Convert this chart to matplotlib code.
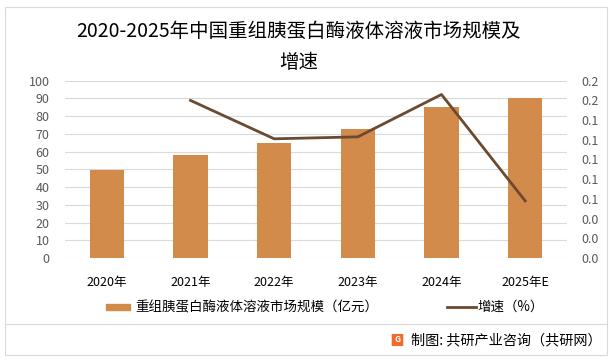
import matplotlib.pyplot as plt
from matplotlib.patches import Rectangle, FancyBboxPatch
from matplotlib.lines import Line2D
from matplotlib.ticker import FormatStrFormatter

plt.rcParams['font.family'] = ['Noto Sans CJK SC', 'DejaVu Sans']

# Data
years = ['2020年', '2021年', '2022年', '2023年', '2024年', '2025年E']
market_size = [49.6, 58.1, 65.0, 72.8, 85.3, 90.4]
growth_years = years[1:]
growth = [0.160, 0.121, 0.123, 0.166, 0.058]

bar_color = '#D38B4C'
line_color = '#6B4A2F'
text_color = '#595959'

fig = plt.figure(figsize=(6.16, 3.6), dpi=100)

# Outer frame and separator
fig.add_artist(Rectangle((5 / 616, 5 / 360), 602 / 616, 348 / 360, transform=fig.transFigure,
                         fill=False, edgecolor='#D9D9D9', linewidth=0.8))
fig.add_artist(Line2D([5 / 616, 607 / 616], [1 - 324 / 360, 1 - 324 / 360],
                      transform=fig.transFigure, color='#D9D9D9', linewidth=0.8))

ax = fig.add_axes([65 / 616, 1 - 258 / 360, 502 / 616, 177.3 / 360])
x = range(len(years))
ax.bar(x, market_size, width=0.41, color=bar_color, zorder=2)
ax.set_xlim(-0.5, len(years) - 0.5)
ax.set_ylim(0, 100)
ax.set_yticks(range(0, 101, 10))
ax.set_xticks(list(x))
ax.set_xticklabels(years)
ax.grid(axis='y', color='#D9D9D9', linewidth=0.8, zorder=0)
for s in ax.spines.values():
    s.set_visible(False)
ax.tick_params(length=0, labelsize=9, colors=text_color, pad=11)
ax.tick_params(axis='x', pad=13, colors='black')

ax2 = ax.twinx()
ax2.plot(range(1, len(years)), growth, color=line_color, linewidth=2, zorder=3)
ax2.set_ylim(0, 0.18)
ax2.set_yticks([i * 0.02 for i in range(10)])
ax2.yaxis.set_major_formatter(FormatStrFormatter('%.1f'))
for s in ax2.spines.values():
    s.set_visible(False)
ax2.tick_params(length=0, labelsize=9, colors=text_color, pad=10)

# Title
fig.text(299 / 616, 1 - 31 / 360, '2020-2025年中国重组胰蛋白酶液体溶液市场规模及', ha='center', va='center',
         fontsize=14, fontweight='light')
fig.text(299 / 616, 1 - 62 / 360, '增速', ha='center', va='center', fontsize=14, fontweight='light')

# Legend
fig.add_artist(Rectangle((106 / 616, 1 - 310 / 360), 24 / 616, 6 / 360, transform=fig.transFigure,
                         color=bar_color))
fig.text(135 / 616, 1 - 307 / 360, '重组胰蛋白酶液体溶液市场规模（亿元）', ha='left', va='center', fontsize=9.7)
fig.add_artist(Line2D([447 / 616, 476 / 616], [1 - 307 / 360, 1 - 307 / 360],
                      transform=fig.transFigure, color=line_color, linewidth=2))
fig.text(477 / 616, 1 - 307 / 360, '增速（%）', ha='left', va='center', fontsize=9.7)

# Source with small logo
fig.add_artist(FancyBboxPatch((393 / 616, 1 - 345 / 360), 9 / 616, 10 / 360,
                              boxstyle='round,pad=0.001', transform=fig.transFigure,
                              color='#F26B2A'))
fig.text(397.5 / 616, 1 - 340 / 360, 'G', ha='center', va='center', fontsize=6,
         color='white', fontweight='bold')
fig.text(411 / 616, 1 - 340 / 360, '制图: 共研产业咨询（共研网）', ha='left', va='center', fontsize=10.2)

fig.savefig('out.png', dpi=100)
